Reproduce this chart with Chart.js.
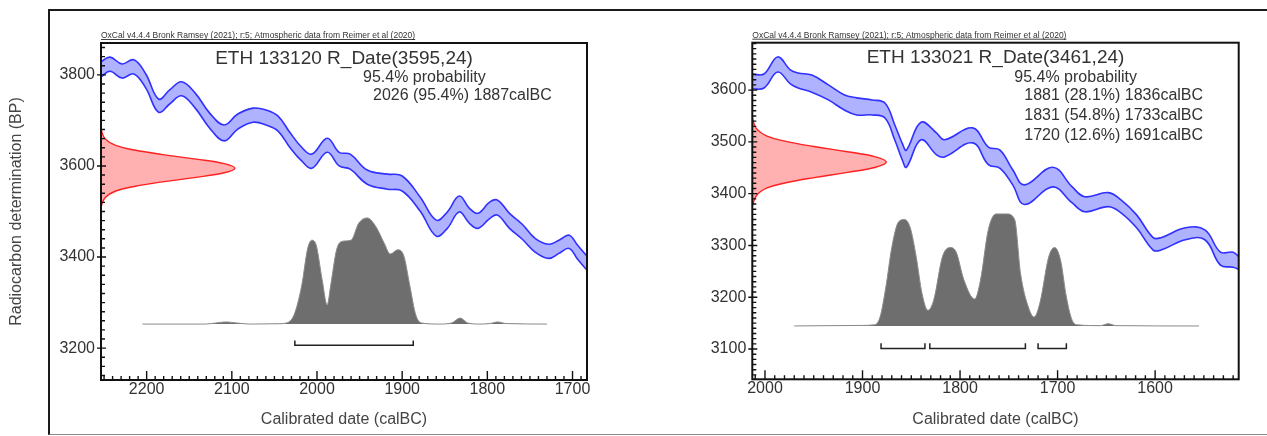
<!DOCTYPE html>
<html>
<head>
<meta charset="utf-8">
<script src="https://cdn.jsdelivr.net/npm/chart.js@4.4.1/dist/chart.umd.min.js"></script>
<style>
  body { margin: 0; background: #fff; }
  #wrap { position: relative; width: 1267px; height: 436px; overflow: hidden; }
  #frame { position: absolute; left: 48px; top: 9px; width: 1300px; height: 423px;
           border-top: 2px solid #1a1a1a; border-left: 2px solid #1a1a1a; border-bottom: 1px solid #8a8a8a; }
  canvas { position: absolute; top: 0; }
</style>
</head>
<body>
<div id="wrap">
  <div id="frame"></div>
  <canvas id="leftChart" width="640" height="436" style="left:0"></canvas>
  <canvas id="rightChart" width="627" height="436" style="left:640px"></canvas>
</div>
<script>
// ---- data ----
const header = "OxCal v4.4.4 Bronk Ramsey (2021); r:5; Atmospheric data from Reimer et al (2020)";

// left: ETH 133120
const leftTitle = "ETH 133120 R_Date(3595,24)";
const leftYearTicks = [2200, 2100, 2000, 1900, 1800, 1700];
const leftBPTicks = [3200, 3400, 3600, 3800];
const leftCalYears = [2254, 2243, 2229, 2215, 2201, 2186, 2173, 2159, 2143, 2126, 2109, 2093, 2075, 2060, 2046, 2032, 2018, 2006, 1988, 1974,
                      1961, 1941, 1917, 1900, 1879, 1860, 1847, 1833, 1821, 1811, 1797, 1788, 1774, 1759, 1744, 1728, 1716, 1704, 1694, 1683];
const leftCalUpper = [3828, 3839, 3824, 3833, 3802, 3747, 3767, 3785, 3760, 3716, 3690, 3714, 3727, 3723, 3710, 3674, 3641, 3626, 3661, 3630,
                      3626, 3591, 3582, 3578, 3532, 3481, 3499, 3534, 3507, 3496, 3521, 3525, 3496, 3472, 3441, 3428, 3437, 3448, 3426, 3402];
const leftCalLower = [3795, 3808, 3793, 3802, 3771, 3718, 3736, 3754, 3727, 3683, 3655, 3681, 3696, 3690, 3677, 3641, 3611, 3595, 3630, 3600,
                      3593, 3560, 3549, 3545, 3501, 3446, 3463, 3499, 3474, 3463, 3485, 3492, 3463, 3439, 3411, 3397, 3408, 3419, 3395, 3371];
const leftPdfBP = [3680, 3660, 3645, 3635, 3625, 3615, 3605, 3595, 3585, 3575, 3565, 3555, 3545, 3530, 3510];
const leftProbYears = [2205, 2131, 2119, 2107, 2094, 2079, 2044, 2036, 2027, 2018, 2011, 2006, 2001, 1994, 1988, 1984, 1977, 1970, 1960,
                       1951, 1941, 1931, 1921, 1914, 1905, 1898, 1891, 1884, 1877, 1856, 1842, 1832, 1823, 1809, 1797, 1788, 1778, 1730];
const leftProb = [0, 0, 0.01, 0.02, 0.01, 0, 0.003, 0.01, 0.085, 0.36, 0.71, 0.79, 0.745, 0.42, 0.18, 0.36, 0.70, 0.78, 0.79,
                  0.95, 1.0, 0.92, 0.76, 0.66, 0.70, 0.64, 0.36, 0.085, 0.01, 0, 0.01, 0.057, 0.01, 0, 0.005, 0.02, 0.005, 0];
const leftRangeFrom = [2026];
const leftRangeTo = [1887];
const leftRangePct = [95.4];

// right: ETH 133021
const rightTitle = "ETH 133021 R_Date(3461,24)";
const rightYearTicks = [2000, 1900, 1800, 1700, 1600];
const rightBPTicks = [3100, 3200, 3300, 3400, 3500, 3600];
const rightCalYears = [2013, 2001, 1987, 1974, 1966, 1952, 1935, 1919, 1906, 1890, 1877, 1867, 1859, 1855, 1840, 1824, 1816, 1787,
                       1771, 1759, 1746, 1734, 1705, 1685, 1672, 1648, 1635, 1619, 1602, 1594, 1569, 1549, 1533, 1520, 1513];
const rightCalUpper = [3631, 3631, 3664, 3639, 3633, 3629, 3610, 3591, 3585, 3581, 3575, 3533, 3496, 3484, 3538, 3517, 3504, 3527,
                       3490, 3484, 3446, 3417, 3451, 3413, 3394, 3402, 3388, 3359, 3315, 3315, 3334, 3330, 3287, 3287, 3276];
const rightCalLower = [3602, 3604, 3635, 3612, 3604, 3596, 3581, 3562, 3552, 3552, 3546, 3504, 3464, 3451, 3504, 3475, 3471, 3498,
                       3456, 3449, 3417, 3379, 3413, 3382, 3365, 3375, 3363, 3334, 3291, 3291, 3311, 3311, 3262, 3258, 3253];
const rightPdfBP = [3546, 3526, 3511, 3501, 3491, 3481, 3471, 3461, 3451, 3441, 3431, 3421, 3411, 3396, 3376];
const rightProbYears = [1970, 1902, 1888, 1882, 1876, 1870, 1863, 1857, 1851, 1845, 1839, 1833, 1827, 1818, 1810, 1804, 1796, 1785, 1779,
                        1771, 1763, 1752, 1744, 1738, 1730, 1724, 1718, 1709, 1703, 1697, 1691, 1685, 1679, 1656, 1648, 1640, 1555];
const rightProb = [0, 0.005, 0.01, 0.08, 0.35, 0.70, 0.93, 0.95, 0.875, 0.62, 0.29, 0.14, 0.23, 0.62, 0.70, 0.66, 0.41, 0.24, 0.41,
                   0.86, 1.0, 1.0, 0.95, 0.47, 0.17, 0.08, 0.21, 0.62, 0.70, 0.59, 0.26, 0.05, 0.01, 0.003, 0.02, 0.003, 0];
const rightRangeFrom = [1881, 1831, 1720];
const rightRangeTo = [1836, 1733, 1691];
const rightRangePct = [28.1, 54.8, 12.6];

// relative height of the radiocarbon date curve, same for both
const pdfHeights = [0, 0.03, 0.11, 0.25, 0.46, 0.71, 0.92, 1, 0.92, 0.71, 0.46, 0.25, 0.11, 0.03, 0];

Chart.defaults.font.family = "'Liberation Sans', Arial, sans-serif";
Chart.defaults.color = "#333";

// box, inward ticks and the OxCal text block
const oxcalDecor = {
  id: "oxcalDecor",
  afterDraw(chart, args, opts) {
    const ctx = chart.ctx;
    const a = chart.chartArea;
    const x = chart.scales.x;
    const y = chart.scales.y;
    ctx.save();
    ctx.strokeStyle = "#111";
    ctx.lineWidth = 2;
    ctx.strokeRect(a.left, a.top, a.right - a.left, a.bottom - a.top);

    ctx.lineWidth = 1.4;
    ctx.beginPath();
    for (let v = Math.ceil(x.min / 10) * 10; v <= x.max; v += 10) {
      const px = x.getPixelForValue(v);
      const len = v % 100 === 0 ? 9 : 4;
      ctx.moveTo(px, a.bottom);
      ctx.lineTo(px, a.bottom - len);
    }
    for (let v = Math.ceil(y.min / opts.yMinor) * opts.yMinor; v <= y.max; v += opts.yMinor) {
      const py = y.getPixelForValue(v);
      if (v % opts.yMajor === 0) {
        ctx.moveTo(a.left - 4, py);
        ctx.lineTo(a.left + 5, py);
      } else {
        ctx.moveTo(a.left, py);
        ctx.lineTo(a.left + 4, py);
      }
    }
    ctx.stroke();

    ctx.fillStyle = "#333";
    ctx.textBaseline = "alphabetic";
    ctx.textAlign = "left";
    ctx.font = "8.5px 'Liberation Sans', Arial";
    ctx.fillText(header, a.left, a.top - 5);
    const w = ctx.measureText(header).width;
    ctx.lineWidth = 0.8;
    ctx.beginPath();
    ctx.moveTo(a.left, a.top - 3.5);
    ctx.lineTo(a.left + w, a.top - 3.5);
    ctx.stroke();

    ctx.textBaseline = "middle";
    ctx.textAlign = "center";
    ctx.font = "19px 'Liberation Sans', Arial";
    ctx.fillText(opts.title, (a.left + a.right) / 2, a.top + 15.5);
    ctx.textAlign = "left";
    ctx.font = "16px 'Liberation Sans', Arial";
    ctx.fillText("95.4% probability", a.left + 262, a.top + 34.5);
    opts.lines.forEach((t, i) => ctx.fillText(t, a.left + 272, a.top + 53 + i * 20));
    ctx.restore();
  }
};

function pts(xs, ys) {
  return xs.map((v, i) => ({ x: v, y: ys[i] }));
}

function makePanel(id, p) {
  const pdf = p.pdfBP.map((bp, i) => ({ x: pdfHeights[i], y: bp }));
  const datasets = [
    { data: pts(p.calYears, p.calLower), borderColor: "#3030ff", borderWidth: 1.6, pointRadius: 0, tension: 0.4, fill: false },
    { data: pts(p.calYears, p.calUpper), borderColor: "#3030ff", borderWidth: 1.6, pointRadius: 0, tension: 0.4,
      fill: "-1", backgroundColor: "rgba(110,115,255,0.55)" },
    { data: pdf, xAxisID: "xp", borderColor: "#ff2020", borderWidth: 1.4, pointRadius: 0, tension: 0.4,
      fill: "shape", backgroundColor: "rgba(255,100,100,0.5)" },
    { data: pts(p.probYears, p.prob), yAxisID: "yp", borderColor: "#8a8a8a", borderWidth: 1, pointRadius: 0,
      cubicInterpolationMode: "monotone", fill: "origin", backgroundColor: "#6e6e6e" }
  ];
  p.rangeFrom.forEach((from, i) => {
    const to = p.rangeTo[i];
    datasets.push({
      data: [{ x: from, y: -0.155 }, { x: from, y: -0.2 }, { x: to, y: -0.2 }, { x: to, y: -0.155 }],
      yAxisID: "yp", borderColor: "#222", borderWidth: 1.5, pointRadius: 0, tension: 0, fill: false
    });
  });
  const lines = p.rangeFrom.map((from, i) => from + " (" + p.rangePct[i] + "%) " + p.rangeTo[i] + "calBC");

  new Chart(document.getElementById(id), {
    type: "line",
    data: { datasets: datasets },
    options: {
      responsive: false,
      animation: false,
      devicePixelRatio: 1,
      layout: { padding: p.padding },
      plugins: {
        legend: { display: false },
        tooltip: { enabled: false },
        oxcalDecor: { title: p.title, lines: lines, yMinor: p.yMinor, yMajor: p.yMajor }
      },
      scales: {
        x: {
          type: "linear", reverse: true, min: p.xMin, max: p.xMax,
          afterBuildTicks: s => { s.ticks = p.yearTicks.map(v => ({ value: v })); },
          afterFit: s => { s.height = p.xAxisHeight; },
          grid: { display: false, drawTicks: false }, border: { display: false },
          ticks: { color: "#333", font: { size: 16 }, padding: 0, maxRotation: 0, autoSkip: false, callback: v => String(v) },
          title: { display: true, text: "Calibrated date (calBC)", color: "#444", font: { size: 16 }, padding: { top: 0, bottom: 7 } }
        },
        y: {
          type: "linear", min: p.yMin, max: p.yMax,
          afterBuildTicks: s => { s.ticks = p.bpTicks.map(v => ({ value: v })); },
          afterFit: s => { s.width = p.yAxisWidth; },
          grid: { display: false, drawTicks: false }, border: { display: false },
          ticks: { color: "#333", font: { size: 16 }, padding: 6, callback: v => String(v) },
          title: { display: p.yTitle, text: "Radiocarbon determination (BP)", color: "#444", font: { size: 16 }, padding: { top: 7, bottom: 0 } }
        },
        xp: { type: "linear", display: false, min: 0, max: 3.63 },
        yp: { type: "linear", display: false, min: p.ypMin, max: p.ypMax }
      }
    },
    plugins: [oxcalDecor]
  });
}

makePanel("leftChart", {
  title: leftTitle, yearTicks: leftYearTicks, bpTicks: leftBPTicks,
  calYears: leftCalYears, calUpper: leftCalUpper, calLower: leftCalLower,
  pdfBP: leftPdfBP, probYears: leftProbYears, prob: leftProb,
  rangeFrom: leftRangeFrom, rangeTo: leftRangeTo, rangePct: leftRangePct,
  xMin: 1683, xMax: 2253.6, yMin: 3130, yMax: 3870, ypMin: -0.527, ypMax: 2.648,
  yMinor: 20, yMajor: 200, yTitle: true,
  padding: { left: 0, right: 53, top: 43, bottom: 0 }, yAxisWidth: 101, xAxisHeight: 56
});

makePanel("rightChart", {
  title: rightTitle, yearTicks: rightYearTicks, bpTicks: rightBPTicks,
  calYears: rightCalYears, calUpper: rightCalUpper, calLower: rightCalLower,
  pdfBP: rightPdfBP, probYears: rightProbYears, prob: rightProb,
  rangeFrom: rightRangeFrom, rangeTo: rightRangeTo, rangePct: rightRangePct,
  xMin: 1514.3, xMax: 2013, yMin: 3041.5, yMax: 3691.5, ypMin: -0.476, ypMax: 2.529,
  yMinor: 10, yMajor: 100, yTitle: false,
  padding: { left: 0, right: 28.3, top: 42.7, bottom: 0 }, yAxisWidth: 112.3, xAxisHeight: 56.7
});
</script>
</body>
</html>
